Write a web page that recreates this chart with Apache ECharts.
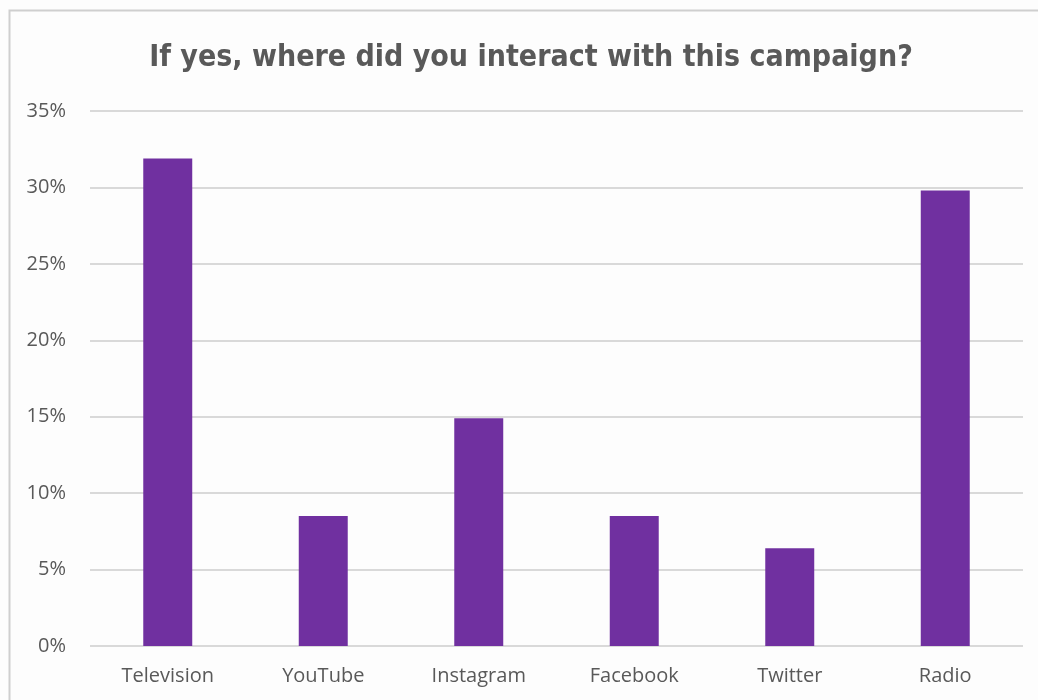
<!DOCTYPE html>
<html><head><meta charset="utf-8">
<script src="https://cdn.jsdelivr.net/npm/echarts@6/dist/echarts.min.js"></script>
<style>html,body{margin:0;padding:0;background:#fff}#c{width:1038px;height:700px}</style>
</head><body><div id="c"></div>
<script>
const categories = ['Television', 'YouTube', 'Instagram', 'Facebook', 'Twitter', 'Radio'];
const values = [31.9, 8.5, 14.9, 8.5, 6.4, 29.8];
const yTicks = [0, 5, 10, 15, 20, 25, 30, 35];
const titleText = 'If yes, where did you interact with this campaign?';

const chart = echarts.init(document.getElementById('c'), null, {renderer: 'canvas'});
chart.setOption({
  backgroundColor: '#fdfdfd',
  animation: false,
  graphic: [{
    type: 'rect', shape: {x: 9.5, y: 10.5, width: 1040, height: 700},
    style: {fill: 'none', stroke: '#cfcfcf', lineWidth: 2}, silent: true
  }],
  title: {
    text: titleText, left: 526, top: 38, textAlign: 'center',
    textStyle: {fontFamily: '"DejaVu Sans Condensed", Roboto, sans-serif', fontWeight: 'bold', fontSize: 30, color: '#595959'}
  },
  grid: {left: 90, right: 15, top: 111, bottom: 54, containLabel: false},
  xAxis: {
    type: 'category', data: categories,
    axisLine: {show: false}, axisTick: {show: false},
    axisLabel: {fontFamily: 'Open Sans', fontSize: 20, color: '#595959', margin: 20}
  },
  yAxis: {
    type: 'value', min: yTicks[0], max: yTicks[yTicks.length - 1], interval: 5,
    axisLine: {show: false}, axisTick: {show: false},
    axisLabel: {fontFamily: 'Open Sans', fontSize: 20, color: '#595959', margin: 24, formatter: '{value}%'},
    splitLine: {lineStyle: {color: '#d9d9d9', width: 2}}
  },
  series: [{
    type: 'bar', data: values, barWidth: '31.5%',
    itemStyle: {color: '#7030a0'}
  }]
});
</script></body></html>
